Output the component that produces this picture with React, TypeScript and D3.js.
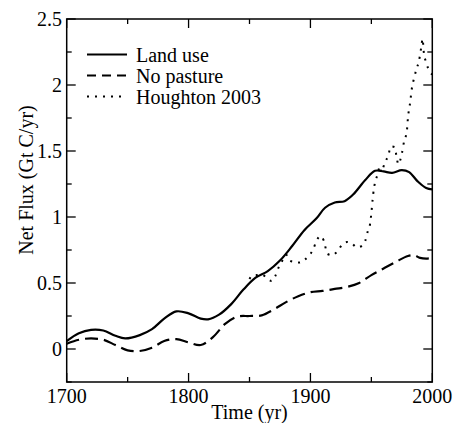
import React from "react";
import * as d3 from "d3";

const landUseYears = [1700, 1710, 1720, 1730, 1740, 1748, 1760, 1770, 1780, 1790, 1800, 1810, 1816, 1825, 1835, 1845, 1855, 1865, 1875, 1885, 1895, 1905, 1912, 1920, 1928, 1935, 1945, 1953, 1960, 1967, 1975, 1981, 1988, 1995, 2000];
const landUseValues = [0.06, 0.12, 0.145, 0.14, 0.1, 0.08, 0.105, 0.15, 0.23, 0.285, 0.27, 0.23, 0.225, 0.26, 0.34, 0.45, 0.54, 0.59, 0.67, 0.78, 0.9, 0.99, 1.07, 1.11, 1.12, 1.17, 1.28, 1.35, 1.345, 1.335, 1.355, 1.34, 1.27, 1.22, 1.21];

const noPastureYears = [1700, 1710, 1720, 1730, 1740, 1750, 1760, 1770, 1780, 1790, 1800, 1810, 1820, 1830, 1840, 1850, 1860, 1870, 1880, 1890, 1900, 1910, 1920, 1930, 1940, 1950, 1960, 1970, 1980, 1985, 1990, 1995, 2000];
const noPastureValues = [0.04, 0.07, 0.08, 0.07, 0.03, -0.01, -0.015, 0.01, 0.06, 0.075, 0.05, 0.03, 0.09, 0.19, 0.245, 0.25, 0.255, 0.3, 0.355, 0.4, 0.43, 0.44, 0.455, 0.47, 0.5, 0.56, 0.61, 0.66, 0.705, 0.71, 0.69, 0.685, 0.69];

const houghtonYears = [1850, 1852, 1856, 1860, 1864, 1868, 1871, 1874, 1877, 1880, 1883, 1887, 1891, 1895, 1899, 1902, 1905, 1908, 1911, 1914, 1918, 1922, 1926, 1930, 1934, 1938, 1942, 1945, 1947, 1949, 1950, 1951, 1952, 1953, 1955, 1957, 1958, 1961, 1964, 1966, 1969, 1971, 1972, 1975, 1977, 1979, 1980, 1982, 1983, 1985, 1987, 1989, 1991, 1992, 1993, 1995, 1998, 2000];
const houghtonValues = [0.53, 0.555, 0.56, 0.565, 0.54, 0.515, 0.55, 0.62, 0.67, 0.715, 0.67, 0.66, 0.655, 0.675, 0.71, 0.75, 0.82, 0.855, 0.82, 0.72, 0.71, 0.74, 0.79, 0.81, 0.8, 0.77, 0.78, 0.82, 0.89, 0.95, 1.03, 1.13, 1.21, 1.26, 1.32, 1.385, 1.34, 1.41, 1.47, 1.535, 1.53, 1.44, 1.4, 1.48, 1.58, 1.64, 1.75, 1.88, 1.96, 2.05, 2.12, 2.18, 2.29, 2.35, 2.25, 2.17, 2.1, 2.08];

const xTickLabels = [1700, 1800, 1900, 2000];
const xMinorTicks = [1750, 1850, 1950];
const yTickLabels = [0, 0.5, 1, 1.5, 2, 2.5];
const yMinorTicks = [-0.25, 0.25, 0.75, 1.25, 1.75, 2.25];

const legendLabels = ["Land use", "No pasture", "Houghton 2003"];

const W = 455;
const H = 423;
const left = 66.7;
const right = 432.3;
const top = 19;
const bottom = 382;
const FONT = "'Liberation Serif', 'Times New Roman', serif";

export default function App() {
  const x = d3.scaleLinear().domain([1700, 2000]).range([left, right]);
  const y = d3.scaleLinear().domain([-0.25, 2.5]).range([bottom, top]);

  const smooth = d3
    .line<[number, number]>()
    .x((d) => x(d[0]))
    .y((d) => y(d[1]))
    .curve(d3.curveCatmullRom.alpha(0.5));
  const mono = d3
    .line<[number, number]>()
    .x((d) => x(d[0]))
    .y((d) => y(d[1]))
    .curve(d3.curveMonotoneX);

  const landUse = landUseYears.map((yr, i) => [yr, landUseValues[i]] as [number, number]);
  const noPasture = noPastureYears.map((yr, i) => [yr, noPastureValues[i]] as [number, number]);
  const houghton = houghtonYears.map((yr, i) => [yr, houghtonValues[i]] as [number, number]);

  const majorLen = 9;
  const minorLen = 5;
  const legendStyles = [
    { dash: undefined },
    { dash: "9,6" },
    { dash: "2,6" },
  ];

  return (
    <svg
      width={W}
      height={H}
      style={{ position: "absolute", left: 0, top: 0, background: "#fff" }}
      fontFamily={FONT}
    >
      <rect x={0} y={0} width={W} height={H} fill="#fff" />
      <defs>
        <clipPath id="plotclip">
          <rect x={left} y={top} width={right - left} height={bottom - top} />
        </clipPath>
      </defs>

      {/* ticks */}
      <g stroke="#000" strokeWidth={1.3}>
        {xTickLabels.map((t) => (
          <g key={"xt" + t}>
            <line x1={x(t)} x2={x(t)} y1={bottom} y2={bottom - majorLen} />
            <line x1={x(t)} x2={x(t)} y1={top} y2={top + majorLen} />
          </g>
        ))}
        {xMinorTicks.map((t) => (
          <g key={"xm" + t}>
            <line x1={x(t)} x2={x(t)} y1={bottom} y2={bottom - minorLen} />
            <line x1={x(t)} x2={x(t)} y1={top} y2={top + minorLen} />
          </g>
        ))}
        {yTickLabels.map((t) => (
          <g key={"yt" + t}>
            <line x1={left} x2={left + majorLen} y1={y(t)} y2={y(t)} />
            <line x1={right} x2={right - majorLen} y1={y(t)} y2={y(t)} />
          </g>
        ))}
        {yMinorTicks.map((t) => (
          <g key={"ym" + t}>
            <line x1={left} x2={left + minorLen} y1={y(t)} y2={y(t)} />
            <line x1={right} x2={right - minorLen} y1={y(t)} y2={y(t)} />
          </g>
        ))}
      </g>

      {/* series */}
      <g clipPath="url(#plotclip)" fill="none" stroke="#000">
        <path d={smooth(landUse) || ""} strokeWidth={2.2} />
        <path d={smooth(noPasture) || ""} strokeWidth={2.2} strokeDasharray="13,6" />
        <path d={mono(houghton) || ""} strokeWidth={2} strokeDasharray="2,6" />
      </g>

      {/* frame */}
      <rect
        x={left}
        y={top}
        width={right - left}
        height={bottom - top}
        fill="none"
        stroke="#000"
        strokeWidth={1.5}
      />

      {/* tick labels */}
      <g fontSize={20} fill="#000">
        {xTickLabels.map((t) => (
          <text key={"xl" + t} x={x(t)} y={403} textAnchor="middle">
            {t}
          </text>
        ))}
        {yTickLabels.map((t) => (
          <text key={"yl" + t} x={62} y={y(t) + 7} textAnchor="end">
            {t}
          </text>
        ))}
      </g>

      {/* axis titles */}
      <text x={(left + right) / 2} y={419} textAnchor="middle" fontSize={20} fill="#000">
        Time (yr)
      </text>
      <text
        transform={`translate(33, ${180}) rotate(-90)`}
        textAnchor="middle"
        fontSize={20}
        fill="#000"
      >
        Net Flux (Gt C/yr)
      </text>

      {/* legend */}
      <g>
        {legendLabels.map((lab, i) => {
          const ly = 54.5 + i * 21;
          return (
            <g key={lab}>
              <line
                x1={87}
                x2={127}
                y1={ly}
                y2={ly}
                stroke="#000"
                strokeWidth={2.2}
                strokeDasharray={legendStyles[i].dash}
              />
              <text x={136} y={ly + 7} fontSize={20} fill="#000">
                {lab}
              </text>
            </g>
          );
        })}
      </g>
    </svg>
  );
}
